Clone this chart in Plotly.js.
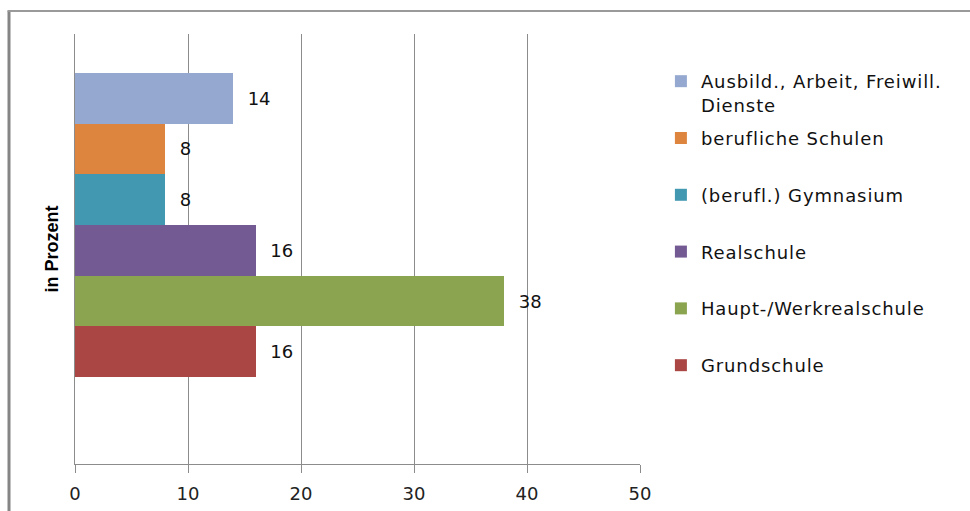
<!DOCTYPE html>
<html>
<head>
<meta charset="utf-8">
<script src="https://cdn.plot.ly/plotly-3.0.1.min.js"></script>
<style>
  html, body { margin: 0; padding: 0; background: #ffffff; }
  #chart { width: 970px; height: 511px; }
  .legendtext { letter-spacing: 0.9px; }
</style>
</head>
<body>
<div id="chart"></div>
<script>
// Schulart – Anteile in Prozent
const seriesNames = [
  'Ausbild., Arbeit, Freiwill.<br>Dienste',
  'berufliche Schulen',
  '(berufl.) Gymnasium',
  'Realschule',
  'Haupt-/Werkrealschule',
  'Grundschule'
];
const seriesValues = [14, 8, 8, 16, 38, 16];
const seriesColors = ['#95a9d0', '#dd843f', '#4298b0', '#735a92', '#8aa44f', '#aa4745'];
const category = [''];
const xTicks = [0, 10, 20, 30, 40, 50];

const labelFont = { family: 'DejaVu Sans, Verdana, sans-serif', size: 18, color: '#111111' };

// every legend entry gets two lines so the entries are evenly spaced
const traces = seriesNames.map((name, i) => ({
  type: 'bar',
  orientation: 'h',
  name: name.includes('<br>') ? name : name + '<br>\u00a0',
  legendgroup: 'g' + i,
  x: [seriesValues[i]],
  y: category,
  marker: { color: seriesColors[i], line: { width: 0 } },
  text: [String(seriesValues[i])],
  texttemplate: '\u00a0\u00a0%{text}',
  textposition: 'outside',
  textfont: labelFont,
  cliponaxis: false,
  hoverinfo: 'skip'
}));

const layout = {
  width: 970,
  height: 511,
  margin: { l: 75, r: 330, t: 34, b: 47, autoexpand: false },
  paper_bgcolor: '#ffffff',
  plot_bgcolor: '#ffffff',
  barmode: 'group',
  bargap: 0,
  bargroupgap: 0,
  showlegend: true,
  legend: {
    x: 1.037, xanchor: 'left',
    y: 0.9326, yanchor: 'top',
    traceorder: 'grouped',
    tracegroupgap: 7,
    valign: 'top',
    itemwidth: 30,
    font: { family: 'DejaVu Sans, Verdana, sans-serif', size: 18, color: '#111111' },
    bgcolor: 'rgba(0,0,0,0)'
  },
  xaxis: {
    range: [0, 50],
    tickmode: 'array',
    tickvals: xTicks,
    ticktext: xTicks.map(String),
    showgrid: true,
    gridcolor: '#8c8c8c',
    gridwidth: 1,
    zeroline: false,
    showline: true,
    linecolor: '#8c8c8c',
    linewidth: 1,
    ticks: 'outside',
    ticklen: 8,
    tickcolor: '#8c8c8c',
    ticklabelstandoff: 5,
    tickfont: { family: 'DejaVu Sans, Verdana, sans-serif', size: 18, color: '#222222' },
    fixedrange: true
  },
  yaxis: {
    type: 'category',
    range: [0.786, -0.628],
    showticklabels: false,
    showgrid: false,
    zeroline: false,
    showline: true,
    linecolor: '#8c8c8c',
    linewidth: 1,
    ticks: '',
    title: {
      text: 'in Prozent',
      standoff: 10,
      font: { family: 'Liberation Sans, Arial, sans-serif', size: 18, color: '#000000', weight: 'bold' }
    },
    fixedrange: true
  },
  shapes: [
    // chart area frame
    {
      type: 'line', xref: 'paper', yref: 'paper',
      x0: -0.1168, x1: -0.1168, y0: 1.0535, y1: -0.2,
      line: { color: '#858585', width: 3 }
    },
    {
      type: 'line', xref: 'paper', yref: 'paper',
      x0: -0.1195, x1: 1.7, y0: 1.0535, y1: 1.0535,
      line: { color: '#9a9a9a', width: 2 }
    }
  ]
};

Plotly.newPlot('chart', traces, layout, { displayModeBar: false, staticPlot: true });
</script>
</body>
</html>
